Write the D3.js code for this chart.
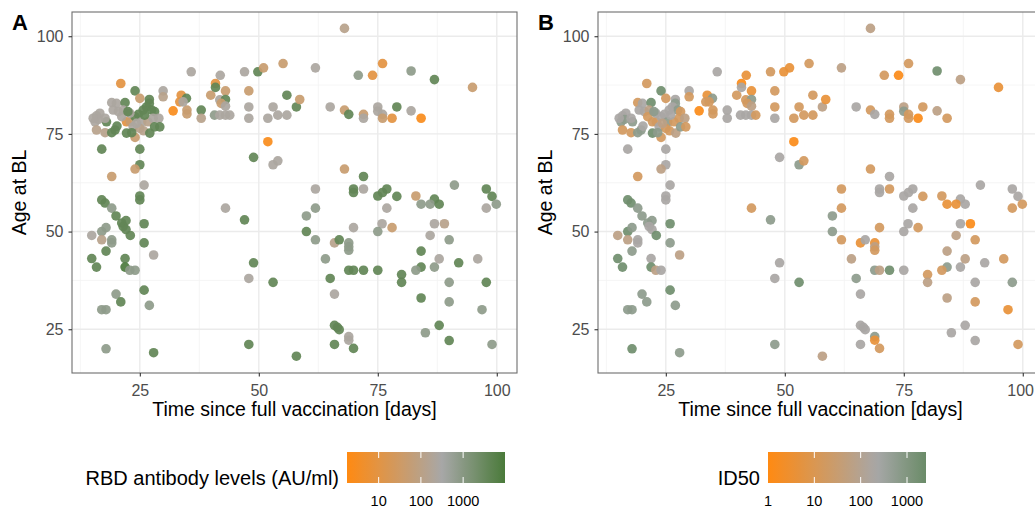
<!DOCTYPE html>
<html><head><meta charset="utf-8">
<script src="https://cdn.jsdelivr.net/npm/d3@7"></script>
<style>body{margin:0;background:#fff;} svg{display:block;font-family:"Liberation Sans",Arial,Helvetica,sans-serif;}</style>
</head><body><svg id="c" width="1035" height="512"></svg>
<script>
// ---- data ----
const days=[
21.0,24.0,25.0,27.0,27.0,26.4,27.5,28.1,25.7,19.1,
20.1,21.9,19.4,20.5,16.6,15.9,15.6,18.0,16.3,15.9,
17.7,19.1,19.8,20.2,22.2,23.0,24.0,24.7,23.6,25.4,
26.7,27.8,29.0,22.2,24.0,25.0,25.8,27.1,28.1,29.2,
29.9,29.9,33.7,34.8,33.4,32.0,34.9,34.9,37.9,37.9,
34.1,21.5,22.9,17.7,21.2,26.0,23.3,22.5,24.3,15.2,
35.8,39.9,40.9,40.9,41.9,43.0,41.8,43.0,42.1,43.0,
40.7,41.8,43.0,43.9,47.0,49.8,51.0,55.1,47.9,47.9,
47.9,51.9,53.0,54.0,55.9,55.9,57.9,58.6,51.9,48.9,
53.0,54.0,68.0,61.9,70.9,73.9,76.0,82.0,86.9,94.9,
65.0,68.0,68.9,72.0,72.0,75.0,75.0,76.0,76.0,78.0,79.0,82.0,84.1,
17.0,25.0,25.0,24.0,19.1,25.9,17.0,17.7,25.0,25.0,
19.1,20.0,21.2,22.1,21.5,22.1,23.0,17.0,17.9,14.9,
17.0,19.1,19.1,17.9,25.9,25.9,27.9,14.9,15.9,21.9,
21.9,22.9,24.0,25.9,20.0,21.0,27.0,17.0,17.9,17.9,
27.9,43.0,47.0,48.9,47.9,53.0,47.9,57.9,
68.0,72.0,61.9,69.9,69.9,72.0,75.0,76.0,76.9,79.0,
83.0,86.9,91.1,97.8,99.0,84.1,86.0,87.9,99.9,97.8,
60.0,61.9,76.9,60.0,61.9,65.9,66.9,68.9,68.9,68.9,
69.9,75.9,75.0,78.0,86.9,89.0,86.0,90.0,84.1,84.1,
83.0,86.9,87.9,92.0,96.0,64.0,68.9,69.9,72.0,75.0,
65.0,80.0,80.0,90.0,97.8,65.9,84.1,90.0,96.9,65.9,
66.5,66.9,68.9,68.9,85.0,87.9,65.9,69.9,90.0,99.0];
const age=[
87.9,86.0,84.1,83.8,82.8,81.9,81.1,80.7,81.1,83.0,
82.8,83.0,81.1,80.7,80.3,79.6,78.1,78.1,78.7,76.0,
75.3,75.3,76.0,77.0,78.1,78.1,79.4,80.0,76.8,78.1,
78.1,79.0,79.0,75.2,74.1,76.4,75.8,75.2,76.8,76.8,
86.0,84.5,84.9,84.1,83.2,80.9,81.1,80.1,81.1,79.0,
83.2,81.1,80.3,79.0,79.4,79.8,75.3,80.7,77.7,79.0,
90.9,84.9,87.9,86.9,90.0,86.0,83.7,83.8,82.8,82.1,
79.8,79.8,79.8,79.8,90.9,90.9,91.9,93.0,86.0,81.9,
79.0,79.0,81.9,79.8,79.8,84.9,81.9,83.8,73.0,69.0,
67.1,68.1,102.0,91.9,90.0,90.0,93.0,91.1,88.9,86.9,
81.9,81.1,80.0,80.0,79.0,81.9,80.8,80.0,79.0,79.0,81.9,80.9,79.0,
71.1,71.1,67.1,66.0,64.1,61.9,58.1,57.3,59.1,58.1,
56.0,54.0,52.2,52.8,51.3,50.5,49.0,50.0,51.0,49.0,
47.9,47.9,47.1,45.0,52.0,47.1,44.0,43.1,40.9,43.1,
40.9,40.1,40.1,35.0,34.0,32.0,31.1,30.0,30.0,20.0,
19.0,56.0,53.0,42.0,38.0,37.0,21.1,18.1,
66.0,64.1,60.9,60.9,60.0,60.9,59.1,60.0,60.9,59.0,
59.1,58.3,61.9,60.9,59.0,57.0,57.0,57.0,57.0,56.0,
54.0,56.0,56.0,50.0,47.9,47.1,47.9,47.1,46.1,45.2,
51.0,52.0,50.0,51.0,52.0,52.0,49.0,47.9,45.0,40.9,
40.1,40.9,43.0,42.0,43.0,43.0,40.1,40.1,40.1,40.1,
38.0,39.0,37.0,37.0,37.0,34.0,33.0,32.0,30.0,26.0,
25.5,24.9,23.1,22.2,24.1,26.0,21.1,20.1,22.1,21.1];
const rbd=[
9,4000,45,4000,4000,4000,4000,4000,4000,250,
250,4000,250,250,250,250,250,4000,250,120,
120,4000,4000,4000,9,45,4000,4000,250,250,
120,250,250,4000,45,120,120,4000,4000,4000,
250,120,9,4000,9,2.5,45,45,4000,120,
250,250,250,250,250,4000,4000,4000,250,250,
250,45,9,4000,250,45,250,4000,45,250,
800,250,250,250,250,4000,45,45,45,250,
250,250,250,250,250,4000,4000,45,2.5,4000,
250,250,120,250,800,9,9,800,4000,45,
250,45,4000,45,250,250,250,250,45,9,4000,250,2.5,
4000,4000,4000,45,45,250,4000,4000,4000,4000,
800,4000,4000,4000,4000,4000,4000,800,800,250,
120,800,800,4000,4000,4000,250,4000,4000,4000,
9000,800,800,4000,800,4000,800,800,800,800,
4000,250,4000,4000,250,4000,4000,4000,
45,4000,250,4000,4000,250,4000,4000,4000,4000,
45,4000,800,4000,4000,800,800,4000,800,250,
800,800,250,4000,800,120,4000,800,800,800,
250,250,800,45,250,120,250,800,4000,4000,
800,800,250,4000,250,800,4000,4000,4000,4000,
4000,4000,4000,800,4000,250,4000,800,800,4000,
4000,4000,250,250,800,4000,4000,4000,4000,800];
const id50=[
16,2000,16,200,630,200,630,16,200,16,
200,2000,200,200,200,200,630,630,630,16,
16,630,630,200,16,16,200,200,200,630,
16,16,63,2000,16,16,16,63,630,16,
200,16,4,630,16,1.3,16,16,200,200,
16,63,200,200,16,200,630,630,63,200,
200,16,1.3,200,4,4,16,630,16,63,
200,200,200,16,16,4,4,16,16,16,
200,16,16,16,16,16,63,4,1.3,200,
630,16,63,63,16,1.3,16,2000,63,4,
200,16,200,16,16,63,630,16,16,1.3,16,63,16,
200,200,200,63,16,200,2000,2000,200,200,
630,630,630,630,200,200,2000,2000,630,63,
63,200,200,630,2000,630,63,2000,2000,200,
2000,63,200,2000,630,630,630,630,630,2000,
630,16,630,200,200,2000,630,63,
16,200,16,200,200,16,200,200,200,16,
16,200,200,200,200,4,4,200,16,16,
630,16,200,630,16,4,200,4,63,16,
16,200,200,16,200,1.3,63,16,63,630,
16,200,63,200,16,63,630,63,2000,200,
630,16,63,200,630,200,63,16,4,200,
200,200,630,4,200,200,200,16,200,16];
const xTicks=[25,50,75,100];
const yTicks=[25,50,75,100];
const xMinor=[12.5,37.5,62.5,87.5];
const yMinor=[37.5,62.5,87.5];
const rbdTicks=[10,100,1000];
const id50Ticks=[1,10,100,1000];
const rbdLimits=[1.78,9800];
const id50Limits=[1,2570];

// ---- drawing ----
const svg=d3.select("#c");
const SW=1035;
const W=445,H=361;
const x=d3.scaleLinear().domain([10.75,104.25]).range([0,W]);
const y=d3.scaleLinear().domain([13.8,106.2]).range([H,0]);

const colA=d3.scaleLinear().domain([Math.log10(rbdLimits[0]),2.5,Math.log10(rbdLimits[1])])
  .range(["#FF8A12","#A7A7A7","#4A7A3A"]).interpolate(d3.interpolateRgb).clamp(true);
const colB=d3.scaleLinear().domain([0,2.35,Math.log10(id50Limits[1])])
  .range(["#FF8A12","#A7A7A7","#6A8B68"]).interpolate(d3.interpolateRgb).clamp(true);

const pts=days.map((d,i)=>({d:d,a:age[i],r:rbd[i],n:id50[i]}));

function panel(ox,oy,key,col,letter,letterX){
  const g=svg.append("g").attr("transform",`translate(${ox},${oy})`);
  g.append("rect").attr("width",W).attr("height",H).attr("fill","#fff");
  g.selectAll(".mx").data(xMinor).join("line").attr("x1",d=>x(d)).attr("x2",d=>x(d)).attr("y1",0).attr("y2",H)
    .attr("stroke","#F2F2F2").attr("stroke-width",0.8);
  g.selectAll(".my").data(yMinor).join("line").attr("y1",d=>y(d)).attr("y2",d=>y(d)).attr("x1",0).attr("x2",W)
    .attr("stroke","#F2F2F2").attr("stroke-width",0.8);
  g.selectAll(".gx").data(xTicks).join("line").attr("x1",d=>x(d)).attr("x2",d=>x(d)).attr("y1",0).attr("y2",H)
    .attr("stroke","#EBEBEB").attr("stroke-width",1.4);
  g.selectAll(".gy").data(yTicks).join("line").attr("y1",d=>y(d)).attr("y2",d=>y(d)).attr("x1",0).attr("x2",W)
    .attr("stroke","#EBEBEB").attr("stroke-width",1.4);
  g.selectAll("circle").data(pts).join("circle")
    .attr("cx",d=>x(d.d)).attr("cy",d=>y(d.a)).attr("r",4.8)
    .attr("fill",d=>col(Math.log10(d[key]))).attr("fill-opacity",0.92);
  g.append("rect").attr("width",W).attr("height",H).attr("fill","none").attr("stroke","#6E6E6E").attr("stroke-width",1.1);
  const ax=g.append("g").attr("transform",`translate(0,${H})`)
    .call(d3.axisBottom(x).tickValues(xTicks).tickSize(3.5).tickPadding(8));
  const ay=g.append("g").call(d3.axisLeft(y).tickValues(yTicks).tickSize(3.5).tickPadding(5));
  [ax,ay].forEach(a=>{a.select(".domain").remove();
    a.selectAll(".tick line").attr("stroke","#333").attr("stroke-width",1.1);
    a.selectAll(".tick text").attr("fill","#4D4D4D").attr("font-size",16).attr("font-family","Liberation Sans, Arial, sans-serif");});
  // keep tick labels inside the page
  ax.selectAll(".tick text").each(function(){
    const bb=this.getBBox(); const t=d3.select(this.parentNode).attr("transform");
    const tx=+t.match(/translate\(([-\d.]+)/)[1];
    const over=ox+tx+bb.width/2-(SW-1);
    if(over>0) d3.select(this).attr("x",-over);
  });
  g.append("text").attr("x",W/2).attr("y",H+43).attr("text-anchor","middle").attr("font-size",19.5)
    .attr("fill","#000").text("Time since full vaccination [days]");
  g.append("text").attr("transform",`translate(${-46},${H/2}) rotate(-90)`).attr("text-anchor","middle")
    .attr("font-size",19.5).attr("fill","#000").text("Age at BL");
  svg.append("text").attr("x",letterX).attr("y",30).attr("font-size",22).attr("font-weight","bold").text(letter);
}
panel(72,12,"r",colA,"A",12);
panel(598,12,"n",colB,"B",538);

function legend(bx,title,ticks,limits,col,id){
  const by=452,bw=158,bh=31;
  const ls=d3.scaleLog().domain(limits).range([bx,bx+bw]);
  const lo=Math.log10(limits[0]),hi=Math.log10(limits[1]);
  const grad=svg.append("defs").append("linearGradient").attr("id",id);
  d3.range(0,21).forEach(k=>{const t=k/20;
    grad.append("stop").attr("offset",t).attr("stop-color",col(lo+t*(hi-lo)));});
  svg.append("rect").attr("x",bx).attr("y",by).attr("width",bw).attr("height",bh).attr("fill",`url(#${id})`);
  ticks.forEach(t=>{
    const tx=ls(t);
    if(tx>bx+0.5){
      svg.append("line").attr("x1",tx).attr("x2",tx).attr("y1",by).attr("y2",by+6).attr("stroke","#fff").attr("stroke-width",1);
      svg.append("line").attr("x1",tx).attr("x2",tx).attr("y1",by+bh-6).attr("y2",by+bh).attr("stroke","#fff").attr("stroke-width",1);
    }
    svg.append("text").attr("x",tx).attr("y",506).attr("text-anchor","middle").attr("font-size",14.5)
      .attr("fill","#000").text(String(t));
  });
  svg.append("text").attr("x",bx-8).attr("y",485).attr("text-anchor","end").attr("font-size",20)
    .attr("fill","#000").text(title);
}
legend(347,"RBD antibody levels (AU/ml)",rbdTicks,rbdLimits,colA,"gA");
legend(768,"ID50",id50Ticks,id50Limits,colB,"gB");
</script></body></html>
